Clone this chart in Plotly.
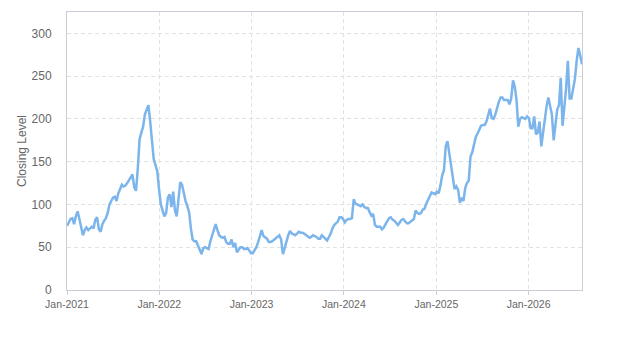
import pandas as pd
import plotly.graph_objects as go

start_date = "2021-01-01"
closing_level = [
    75, 80, 83, 84, 77, 86, 92, 83, 75, 64,
    70, 73, 70, 72, 74, 72, 82, 85, 71, 68,
    77, 81, 84, 90, 100, 104, 108, 109, 104, 113,
    119, 123, 121, 122, 125, 128, 131, 135, 120, 116,
    142, 176, 184, 191, 205, 212, 216, 197, 176, 153,
    146, 139, 118, 100, 93, 86, 90, 108, 112, 97,
    115, 93, 86, 104, 126, 123, 112, 104, 98, 91,
    72, 59, 57, 57, 52, 46, 42, 49, 50, 49,
    48, 57, 64, 73, 77, 70, 64, 62, 61, 62,
    56, 54, 54, 59, 50, 55, 44, 47, 50, 50,
    48, 48, 49, 46, 43, 43, 46, 50, 56, 64,
    70, 63, 61, 60, 56, 56, 57, 59, 61, 63,
    64, 59, 42, 49, 57, 64, 69, 66, 65, 64,
    66, 68, 67, 67, 66, 64, 62, 61, 62, 64,
    63, 62, 60, 60, 64, 62, 60, 58, 62, 66,
    72, 76, 78, 80, 85, 85, 83, 79, 82, 83,
    83, 84, 106, 101, 100, 99, 98, 100, 97, 96,
    96, 91, 87, 89, 76, 74, 74, 74, 71, 73,
    77, 81, 84, 85, 82, 81, 79, 76, 79, 82,
    83, 80, 78, 78, 80, 81, 83, 93, 90, 89,
    90, 94, 95, 101, 106, 109, 114, 113, 112, 115,
    113, 122, 134, 140, 168, 174, 160, 146, 133, 118,
    121, 117, 102, 108, 104, 119, 125, 128, 156, 161,
    170, 179, 183, 187, 192, 193, 193, 197, 205, 212,
    201, 200, 205, 213, 220, 225, 225, 222, 222, 222,
    217, 224, 245, 238, 222, 191, 200, 202, 201, 200,
    203, 201, 189, 189, 203, 182, 184, 197, 168, 185,
    195, 215, 225, 216, 205, 175, 190, 211, 216, 248,
    192, 210, 235, 268, 224, 224, 235, 247, 268, 283,
    274, 264,
]
dates = pd.date_range(start_date, periods=len(closing_level), freq="7D")
y_ticks = [0, 50, 100, 150, 200, 250, 300]

axis_color = "#c8cdd8"
grid_color = "#e2e2e2"
text_color = "#666666"
font_family = "Liberation Sans, Arial, sans-serif"

fig = go.Figure()
fig.add_trace(go.Scatter(
    x=dates, y=closing_level, mode="lines",
    line=dict(color="#7cb5ec", width=2.5),
    showlegend=False, hoverinfo="x+y",
))

fig.update_layout(
    width=623, height=350,
    margin=dict(l=67, r=41, t=12, b=60),
    paper_bgcolor="white", plot_bgcolor="white",
    font=dict(family=font_family, color=text_color),
)
fig.update_xaxes(
    range=[dates[0], dates[-1]],
    tickformat="%b-%Y", dtick="M12", tick0=start_date,
    tickfont=dict(size=10.5, color=text_color),
    showgrid=True, gridcolor=grid_color, griddash="4px,3px", gridwidth=1,
    showline=True, linecolor=axis_color, linewidth=1, mirror=True,
    ticks="outside", ticklen=4, tickcolor=axis_color,
    ticklabelstandoff=0,
    zeroline=False,
)
fig.update_yaxes(
    range=[0, 325],
    tickvals=y_ticks,
    tickfont=dict(size=12, color=text_color),
    title=dict(text="Closing Level", font=dict(size=12, color=text_color), standoff=2),
    showgrid=True, gridcolor=grid_color, griddash="4px,3px", gridwidth=1,
    showline=True, linecolor=axis_color, linewidth=1, mirror=True,
    ticklabelstandoff=12,
    zeroline=False,
)

fig.write_html("out.html")
